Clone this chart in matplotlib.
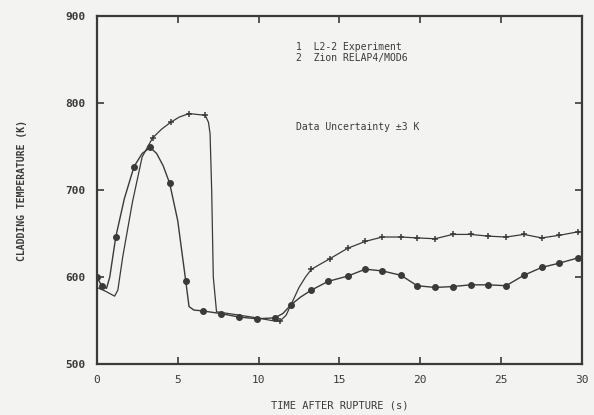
import matplotlib.pyplot as plt
import numpy as np

# curve 1: L2-2 experiment (filled circles)
t_exp = [0, 0.3, 0.6, 0.8, 1.17, 1.7, 2.3, 2.8, 3.3, 3.7, 4.1, 4.5, 5.0, 5.5, 5.7, 6.0,
         6.55, 7.65, 8.77, 9.9, 11.0, 11.5, 12.0, 12.6, 13.27, 14.3, 15.5, 16.6, 17.65,
         18.8, 19.8, 20.9, 22.0, 23.1, 24.2, 25.3, 26.4, 27.5, 28.6, 29.75, 30]
T_exp = [600, 590, 587, 600, 646, 690, 727, 742, 749, 742, 728, 708, 665, 595, 566, 562,
         561, 558, 554, 552, 553, 558, 568, 577, 585, 595, 601, 609, 607,
         602, 590, 588, 589, 591, 591, 590, 602, 611, 616, 622, 623]
mk_exp = [0, 1, 4, 6, 8, 11, 13, 16, 17, 18, 19, 20, 22, 24, 25, 26, 27, 28,
          29, 30, 31, 32, 33, 34, 35, 36, 37, 38, 39]

# curve 2: Zion RELAP4/MOD6 (small ticks)
t_calc = [0, 0.5, 1.1, 1.3, 1.6, 2.2, 2.8, 3.45, 4.0, 4.57, 5.1, 5.7, 6.7, 6.9, 7.0,
          7.1, 7.2, 7.4, 8.5, 9.9, 10.8, 11.3, 11.7, 12.0, 12.5, 12.9, 13.27, 14.4, 15.5,
          16.6, 17.65, 18.8, 19.8, 20.9, 22.0, 23.1, 24.2, 25.3, 26.4, 27.5,
          28.6, 29.75, 30]
T_calc = [588, 584, 578, 585, 623, 686, 738, 760, 770, 778, 784, 788, 786, 778, 765,
          700, 600, 560, 557, 553, 550, 549, 556, 568, 588, 600, 609, 621, 633,
          641, 646, 646, 645, 644, 649, 649, 647, 646, 649, 645,
          648, 652, 652]
mk_calc = [7, 9, 11, 12, 21, 26, 27, 28, 29, 30, 31, 32, 33, 34, 35, 36, 37,
           38, 39, 40, 41]

xticks = [0, 5, 10, 15, 20, 25, 30]
yticks = [500, 600, 700, 800, 900]

ink = '#3a3a3a'
bg = '#f3f3f1'
plt.rcParams['font.family'] = ['DejaVu Sans Mono']

fig = plt.figure(figsize=(5.94, 4.15), dpi=100, facecolor=bg)
ax = fig.add_axes([0.163, 0.123, 0.817, 0.838], facecolor=bg)

ax.plot(t_exp, T_exp, color=ink, lw=1.0, marker='o', ms=4,
        markevery=mk_exp, mfc=ink, mec=ink)
ax.plot(t_calc, T_calc, color=ink, lw=0.9, marker='+', ms=4, mew=1.1,
        markevery=mk_calc, mec=ink)

ax.set_xlim(0, 30)
ax.set_ylim(500, 900)
ax.set_xticks(xticks)
ax.set_yticks(yticks)
ax.tick_params(direction='in', length=5, width=1.2, color=ink,
               top=True, right=True, labelsize=8, labelcolor=ink, pad=8)
for s in ax.spines.values():
    s.set_color(ink)
    s.set_linewidth(1.6)

for lab in ax.get_yticklabels():
    lab.set_fontweight('bold')

ax.set_xlabel('TIME AFTER RUPTURE (s)', fontsize=7.5, color=ink, labelpad=11)
ax.set_ylabel('CLADDING TEMPERATURE (K)', fontsize=7, color=ink,
              fontweight='bold', labelpad=28)

ax.text(0.41, 0.895, '1  L2-2 Experiment\n2  Zion RELAP4/MOD6',
        transform=ax.transAxes, fontsize=7, color=ink, va='center',
        linespacing=1.1)
ax.text(0.41, 0.68, 'Data Uncertainty \u00b13 K', transform=ax.transAxes,
        fontsize=7, color=ink, va='center')

fig.savefig('out.png', dpi=100, facecolor=bg)
